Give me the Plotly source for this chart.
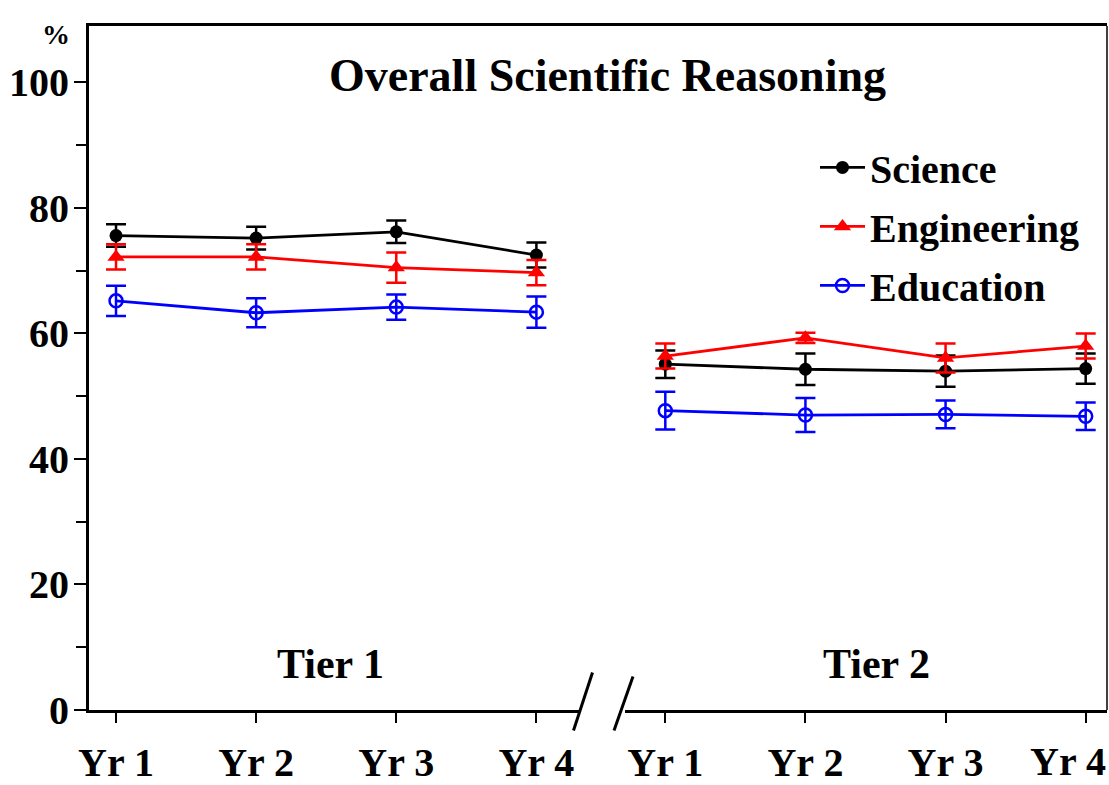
import plotly.graph_objects as go

# ---- data ----
years = ["Yr 1", "Yr 2", "Yr 3", "Yr 4"]
year_index = [1, 2, 3, 4]
tier2_offset = 3.92  # position shift of the Tier 2 block (axis break)

science_t1 = [75.6, 75.2, 76.2, 72.5]
science_t1_err = [1.8, 1.8, 1.8, 2.0]
engineering_t1 = [72.2, 72.2, 70.5, 69.7]
engineering_t1_err = [2.0, 2.0, 2.4, 2.0]
education_t1 = [65.2, 63.3, 64.2, 63.4]
education_t1_err = [2.4, 2.3, 2.0, 2.5]

science_t2 = [55.1, 54.3, 54.0, 54.4]
science_t2_err = [2.2, 2.5, 2.5, 2.4]
engineering_t2 = [56.4, 59.3, 56.1, 58.0]
engineering_t2_err = [2.0, 0.8, 2.3, 2.0]
education_t2 = [47.7, 47.0, 47.1, 46.8]
education_t2_err = [3.0, 2.7, 2.2, 2.2]

y_ticks = [0, 20, 40, 60, 80, 100]

# ---- figure ----
FONT = "Liberation Serif"
x_t1 = year_index
x_t2 = [v + tier2_offset for v in year_index]

series = [
    ("Science", "black", dict(symbol="circle", size=13, color="black"),
     science_t1, science_t1_err, science_t2, science_t2_err),
    ("Engineering", "red", dict(symbol="triangle-up", size=15, color="red"),
     engineering_t1, engineering_t1_err, engineering_t2, engineering_t2_err),
    ("Education", "blue", dict(symbol="circle-open", size=13, color="blue", line=dict(width=2.5, color="blue")),
     education_t1, education_t1_err, education_t2, education_t2_err),
]

fig = go.Figure()
for name, color, marker, y1, e1, y2, e2 in series:
    for xs, ys, es, show in ((x_t1, y1, e1, True), (x_t2, y2, e2, False)):
        fig.add_trace(go.Scatter(
            x=xs, y=ys, name=name, legendgroup=name, showlegend=show,
            mode="lines+markers",
            line=dict(color=color, width=2.8),
            marker=marker,
            error_y=dict(type="data", array=es, visible=True, color=color,
                         thickness=2.5, width=10),
        ))

# page-pixel layout (body margin removed below so the figure fills the window)
W, H = 1109, 785
px_left, px_right, px_top, px_bottom = 89, 1107, 26, 710.5
pw = px_right - px_left
ph = px_bottom - px_top

def xp(px):
    return (px - px_left) / pw

def yp(py):
    return (px_bottom - py) / ph

shapes = [
    # gap in the x axis line (axis break)
    dict(type="rect", xref="paper", yref="paper", x0=xp(580), x1=xp(625),
         y0=yp(716), y1=yp(705), fillcolor="white", line=dict(width=0), layer="above"),
    # break marks
    dict(type="line", xref="paper", yref="paper", x0=xp(592.5), y0=yp(673), x1=xp(573.5), y1=yp(731),
         line=dict(color="black", width=3)),
    dict(type="line", xref="paper", yref="paper", x0=xp(633), y0=yp(677), x1=xp(614), y1=yp(731),
         line=dict(color="black", width=3)),
    # right border
    dict(type="line", xref="paper", yref="paper", x0=1, y0=0, x1=1, y1=1,
         line=dict(color="black", width=1.5)),
]

TICK_FONT = dict(family=FONT, size=40, color="black", weight="bold")

annotations = [
    dict(text="Overall Scientific Reasoning", xref="paper", yref="paper",
         x=xp(607), y=yp(76), xanchor="center", yanchor="middle", showarrow=False,
         font=dict(family=FONT, size=46, color="black", weight="bold")),
    dict(text="Tier 1", xref="paper", yref="paper", x=xp(330), y=yp(664),
         xanchor="center", yanchor="middle", showarrow=False,
         font=dict(family=FONT, size=42, color="black", weight="bold")),
    dict(text="Tier 2", xref="paper", yref="paper", x=xp(876), y=yp(664),
         xanchor="center", yanchor="middle", showarrow=False,
         font=dict(family=FONT, size=42, color="black", weight="bold")),
    dict(text="%", xref="paper", yref="paper", x=xp(56), y=yp(35),
         xanchor="center", yanchor="middle", showarrow=False,
         font=dict(family=FONT, size=28, color="black", weight="bold")),
    # last tick label, pulled in against the right edge as in the original
    dict(text=years[-1], xref="paper", yref="paper", x=xp(1107), y=yp(762),
         xanchor="right", yanchor="middle", showarrow=False, borderpad=0,
         font=TICK_FONT),
]

tick_text = years + years[:-1] + [""]

fig.update_layout(
    width=W, height=H,
    margin=dict(l=px_left, r=W - px_right, t=px_top, b=H - px_bottom,
                pad=0, autoexpand=False),
    paper_bgcolor="white", plot_bgcolor="white",
    font=dict(family=FONT, color="black"),
    showlegend=True,
    legend=dict(x=xp(815), y=yp(135), xanchor="left", yanchor="top",
                bgcolor="rgba(0,0,0,0)", borderwidth=0,
                font=dict(family=FONT, size=40, color="black", weight="bold"),
                itemwidth=45, tracegroupgap=4),
    shapes=shapes,
    annotations=annotations,
    xaxis=dict(
        range=[1 - (116 - px_left) / 140, 4 + tier2_offset + (px_right - 1085.7) / 140],
        tickvals=x_t1 + x_t2, ticktext=tick_text,
        showgrid=False, zeroline=False, automargin=False, ticklabeloverflow="allow",
        showline=True, linecolor="black", linewidth=3, mirror=True,
        ticks="outside", ticklen=10, tickwidth=2, tickcolor="black", ticklabelstandoff=5,
        tickfont=TICK_FONT,
    ),
    yaxis=dict(
        range=[0, (px_bottom - px_top) / 6.28],
        tickvals=y_ticks,
        showgrid=False, zeroline=False, automargin=False, ticklabeloverflow="allow",
        showline=True, linecolor="black", linewidth=3,
        ticks="outside", ticklen=12, tickwidth=2, tickcolor="black", ticklabelstandoff=-3,
        minor=dict(ticks="outside", ticklen=10, tickwidth=2, dtick=10, tickcolor="black"),
        tickfont=TICK_FONT,
    ),
)

fig.write_html(
    "out.html",
    config={"displayModeBar": False},
    post_script="document.body.style.margin='0px';document.body.style.overflow='hidden';",
)
